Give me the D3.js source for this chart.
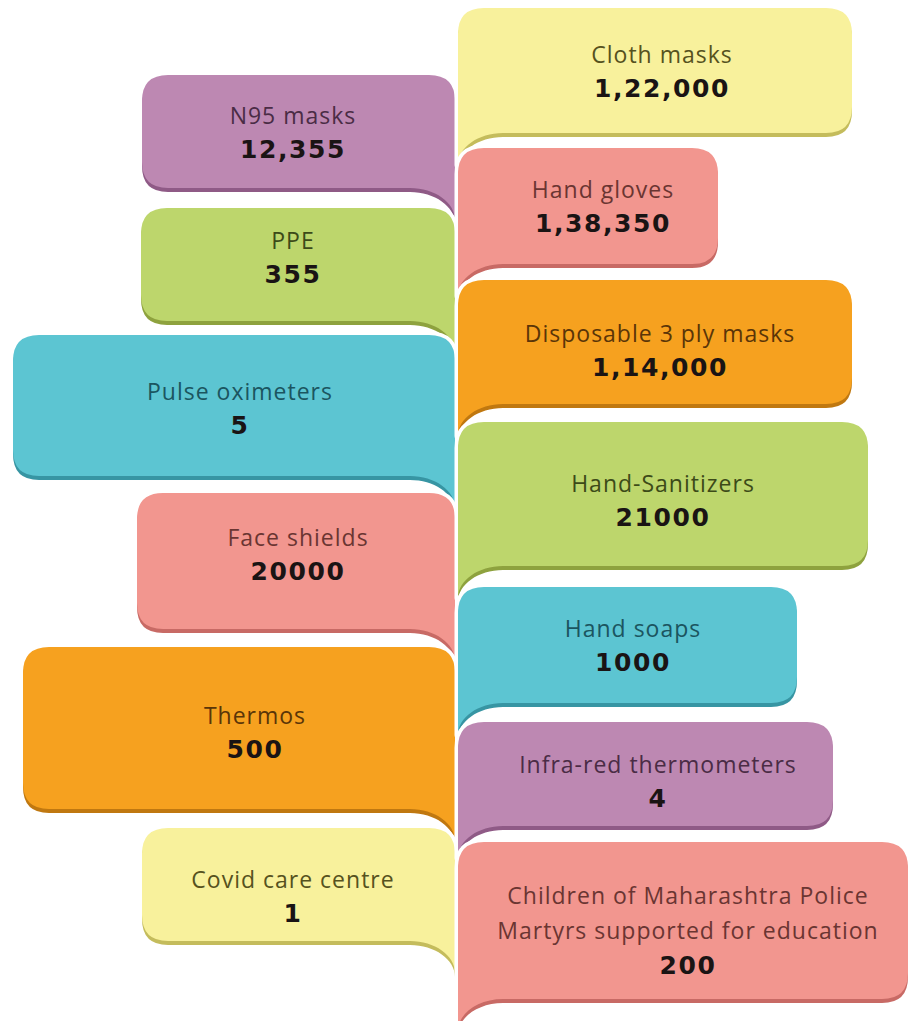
<!DOCTYPE html>
<html>
<head>
<meta charset="utf-8">
<script src="https://cdn.jsdelivr.net/npm/d3@7"></script>
<style>
  html, body { margin: 0; padding: 0; background: #fff; }
  svg { display: block; }
</style>
</head>
<body>
<script>

// ---- data ----
var left_items  = ['N95 masks', 'PPE', 'Pulse oximeters', 'Face shields', 'Thermos', 'Covid care centre'];
var left_values = ['12,355', '355', '5', '20000', '500', '1'];
var left_colors = ['purple', 'green', 'cyan', 'pink', 'orange', 'yellow'];

var right_items  = ['Cloth masks', 'Hand gloves', 'Disposable 3 ply masks', 'Hand-Sanitizers',
                    'Hand soaps', 'Infra-red thermometers',
                    'Children of Maharashtra Police\nMartyrs supported for education'];
var right_values = ['1,22,000', '1,38,350', '1,14,000', '21000', '1000', '4', '200'];
var right_colors = ['yellow', 'pink', 'orange', 'green', 'cyan', 'purple', 'pink'];

// ---- layout (bubble boxes: x0, x1, y0, y1, text cx, text cy) ----
var left_boxes = [
  [142, 455,  75, 188, 293, 132],
  [141, 455, 208, 321, 293, 257],
  [ 13, 455, 335, 476, 240, 408],
  [137, 455, 493, 629, 298, 554],
  [ 23, 455, 647, 809, 255, 732],
  [142, 455, 828, 941, 293, 896]
];
var right_boxes = [
  [458, 852,   8, 133, 662,  71],
  [458, 718, 148, 264, 603, 206],
  [458, 852, 280, 404, 660, 350],
  [458, 868, 422, 566, 663, 500],
  [458, 797, 587, 703, 633, 645],
  [458, 833, 722, 826, 658, 781],
  [458, 908, 842, 999, 688, 930]
];

var palette = {
  purple: { fill: '#bd88b2', shade: '#8f5a86', ink: '#4a2c45' },
  green:  { fill: '#bdd66c', shade: '#8ea23e', ink: '#3c4a18' },
  cyan:   { fill: '#5cc5d2', shade: '#3795a3', ink: '#1b5560' },
  pink:   { fill: '#f2968f', shade: '#c86a65', ink: '#6a3532' },
  orange: { fill: '#f6a11f', shade: '#c07810', ink: '#5a3508' },
  yellow: { fill: '#f8f19c', shade: '#c4bc5c', ink: '#56521e' }
};

var width = 910, height = 1021;
var radius = 26, tail_w = 45, tail_h = 32;

var svg = d3.select('body').append('svg')
  .attr('width', width)
  .attr('height', height);

svg.append('rect')
  .attr('width', width)
  .attr('height', height)
  .attr('fill', '#fff');

// speech bubble with tail on the right (left column)
function path_left(b){
  var x0 = b[0], x1 = b[1], y0 = b[2], y1 = b[3], r = radius;
  var p = d3.path();
  p.moveTo(x0 + r, y0);
  p.lineTo(x1 - r, y0);
  p.quadraticCurveTo(x1, y0, x1, y0 + r);
  p.lineTo(x1, y1 + tail_h);
  p.bezierCurveTo(x1, y1 + tail_h*0.45, x1 - tail_w*0.45, y1, x1 - tail_w, y1);
  p.lineTo(x0 + r, y1);
  p.quadraticCurveTo(x0, y1, x0, y1 - r);
  p.lineTo(x0, y0 + r);
  p.quadraticCurveTo(x0, y0, x0 + r, y0);
  p.closePath();
  return p.toString();
}

// speech bubble with tail on the left (right column)
function path_right(b){
  var x0 = b[0], x1 = b[1], y0 = b[2], y1 = b[3], r = radius;
  var p = d3.path();
  p.moveTo(x0, y1 + tail_h);
  p.lineTo(x0, y0 + r);
  p.quadraticCurveTo(x0, y0, x0 + r, y0);
  p.lineTo(x1 - r, y0);
  p.quadraticCurveTo(x1, y0, x1, y0 + r);
  p.lineTo(x1, y1 - r);
  p.quadraticCurveTo(x1, y1, x1 - r, y1);
  p.lineTo(x0 + tail_w, y1);
  p.bezierCurveTo(x0 + tail_w*0.45, y1, x0, y1 + tail_h*0.45, x0, y1 + tail_h);
  p.closePath();
  return p.toString();
}

function draw_column(items, values, colors, boxes, make_path, cls){
  var rows = items.map(function(d, i){
    return { label: d, value: values[i], color: palette[colors[i]], box: boxes[i] };
  });

  var g = svg.append('g').classed(cls, true)
    .selectAll('g')
    .data(rows)
    .enter()
    .append('g')
    .classed('bubble', true);

  // white halo that separates a bubble from the tail above it
  g.append('path')
    .attr('d', function(d){ return make_path(d.box); })
    .attr('fill', '#fff')
    .attr('stroke', '#fff')
    .attr('stroke-width', 7)
    .attr('stroke-linejoin', 'round');

  // darker bottom edge
  g.append('path')
    .attr('d', function(d){ return make_path(d.box); })
    .attr('transform', 'translate(0, 4)')
    .attr('fill', function(d){ return d.color.shade; });

  g.append('path')
    .attr('d', function(d){ return make_path(d.box); })
    .attr('fill', function(d){ return d.color.fill; });

  g.each(function(d){
    var lines = d.label.split('\n');
    var step = 35;
    var n = lines.length + 1;
    var top = d.box[5] - step * (n - 1) / 2;
    var sel = d3.select(this);

    lines.forEach(function(line, k){
      sel.append('text')
        .text(line)
        .attr('x', d.box[4])
        .attr('y', top + step * k)
        .style('font-family', '"Open Sans", sans-serif')
        .style('font-size', '23px')
        .style('font-weight', 400)
        .style('letter-spacing', '1px')
        .style('text-anchor', 'middle')
        .style('dominant-baseline', 'central')
        .style('fill', d.color.ink);
    });

    sel.append('text')
      .text(d.value)
      .attr('x', d.box[4])
      .attr('y', top + step * lines.length)
      .style('font-family', '"DejaVu Sans", sans-serif')
      .style('font-size', '25px')
      .style('font-weight', 700)
      .style('letter-spacing', '1.6px')
      .style('text-anchor', 'middle')
      .style('dominant-baseline', 'central')
      .style('fill', '#1a1414');
  });
}

draw_column(left_items, left_values, left_colors, left_boxes, path_left, 'left_column');
draw_column(right_items, right_values, right_colors, right_boxes, path_right, 'right_column');

</script>
</body>
</html>
